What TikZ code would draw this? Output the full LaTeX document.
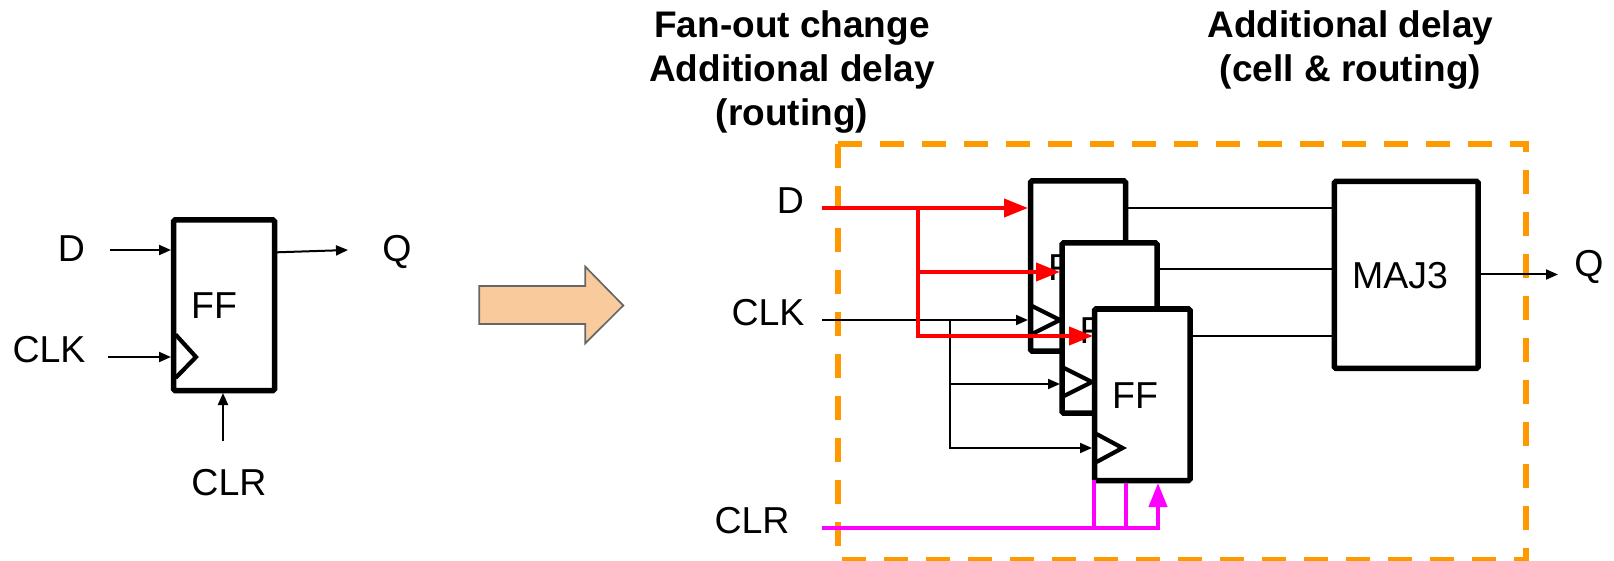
\documentclass[tikz,border=0pt]{standalone}
\usepackage{fontspec}
\setmainfont{Liberation Sans}
\usetikzlibrary{arrows.meta}
\definecolor{dashor}{HTML}{FF9900}
\definecolor{arrowfill}{HTML}{F9CB9C}
\definecolor{arrowline}{HTML}{666666}
\definecolor{mag}{HTML}{FF00FF}
\tikzset{
  lab/.style={font=\fontsize{37.5}{37.5}\selectfont,inner sep=0pt,outer sep=0pt,anchor=base},
  head/.style={font=\fontsize{37}{44}\selectfont\bfseries,inner sep=0pt,anchor=center,align=center},
  cell/.style={draw=black,line width=5.5pt,fill=white,rounded corners=1.5pt,minimum width=95pt,minimum height=170pt,inner sep=0pt,outer sep=0pt,anchor=north west},
  clockmark/.style={draw=black,line width=4.2pt,line join=miter},
  thinarrow/.style={draw=black,line width=2pt,-{Triangle[length=12pt,width=10pt]}},
  plain/.style={draw=black,line width=2pt},
  redw/.style={draw=red,line width=4pt,-{Triangle[length=24pt,width=18pt]}},
  magw/.style={draw=mag,line width=4pt},
}
\begin{document}
\begin{tikzpicture}[x=1pt,y=-1pt]
\useasboundingbox (0,0) rectangle (1614,561);
% left FF
\node[cell,minimum width=101pt,minimum height=170.5pt] (ffa) at (173.5,220) {};
\node[lab] (ffat) at (214,318) {FF};
\draw[clockmark] (175.5,334.5) -- (196,357) -- (175.5,378);
\node[lab] (da) at (71.5,262) {D};
\node[lab] (clka) at (49,362.5) {CLK};
\node[lab] (clra) at (229,495) {CLR};
\node[lab] (qa) at (397,262) {Q};
\coordinate (dai) at (110,250);\coordinate (dae) at (171,250);
\coordinate (cai) at (108,357);\coordinate (cae) at (171,357);
\coordinate (rai) at (223,440.5);\coordinate (rae) at (223,393);
\coordinate (qai) at (277,252.3);\coordinate (qae) at (348,250);
\draw[thinarrow] (dai) -- (dae);
\draw[thinarrow] (cai) -- (cae);
\draw[thinarrow] (rai) -- (rae);
\draw[thinarrow] (qai) -- (qae);
% block arrow
\draw[draw=arrowline,fill=arrowfill,line width=1.7pt] (479.3,286) -- (585.3,286) -- (585.3,266.7) -- (623.3,305.5) -- (585.3,343.3) -- (585.3,324) -- (479.3,324) -- cycle;
% headers
\node[head] (h1) at (792,72) {Fan-out change\\Additional delay\\(routing)};
\node[head] (h2) at (1350.5,50.5) {Additional delay\\(cell \& routing)};
% dashed box
\coordinate (dba) at (838,144);\coordinate (dbb) at (1526,144);\coordinate (dbc) at (1526,560);\coordinate (dbd) at (838,560);
\draw[dashor,line width=6pt,dash pattern=on 24pt off 18pt] (dba) -- (dbb) -- (dbc) -- (dbd) -- cycle;
\coordinate (din) at (822,208);\coordinate (cin) at (822,320);\coordinate (rin) at (822,528);
\coordinate (rj) at (918,208);\coordinate (rj2) at (918,272);\coordinate (rj3) at (918,336);
\coordinate (cj) at (950,320);\coordinate (cj2) at (950,384);\coordinate (cj3) at (950,448);
% FF 1
\node[cell] (ff1) at (1030.5,181) {};
\node[lab] (ff1t) at (1071,281) {FF};
\draw[clockmark] (1032,306) -- (1060,320) -- (1032,334);
% FF 2
\node[cell] (ff2) at (1062,243) {};
\node[lab] (ff2t) at (1102.5,343) {FF};
\draw[clockmark] (1064,368) -- (1092,382) -- (1064,396);
% FF 3
\node[cell,minimum width=95.5pt,minimum height=171.5pt] (ff3) at (1094.5,309) {};
\node[lab] (ff3t) at (1135,408) {FF};
\draw[clockmark] (1096.5,434) -- (1122.5,448) -- (1096.5,462);
% MAJ3
\node[cell,minimum width=143.7pt,minimum height=187pt] (maj) at (1334.3,181.4) {};
\node[lab] (majt) at (1400,289) {MAJ3};
\node[lab] (din2) at (790.3,214) {D};
\node[lab] (clk2) at (768,326) {CLK};
\node[lab] (clr2) at (752,533) {CLR};
\node[lab] (q2) at (1589,277) {Q};
% outputs
\coordinate (o1) at (1128,208);\coordinate (o1m) at (1334,208);
\coordinate (o2) at (1159,269);\coordinate (o2m) at (1334,269);
\coordinate (o3) at (1192,336);\coordinate (o3m) at (1334,336);
\coordinate (oq) at (1481,274.5);\coordinate (oqe) at (1558,274.5);
\draw[plain] (o1) -- (o1m);
\draw[plain] (o2) -- (o2m);
\draw[plain] (o3) -- (o3m);
\draw[thinarrow] (oq) -- (oqe);
% clock
\draw[thinarrow] (cin) -- (1028,320);
\draw[thinarrow] (cj) -- (cj2) -- (1060,384);
\draw[thinarrow] (cj2) -- (cj3) -- (1092,448);
% data
\draw[redw] (din) -- (1028,208);
\draw[redw] (rj) -- (rj2) -- (1060,272);
\draw[redw] (rj2) -- (rj3) -- (1093,336);
% clear
\draw[magw] (rin) -- (1158,528);
\draw[magw,-{Triangle[length=24pt,width=18pt]}] (1158,530) -- (1158,483);
\draw[magw] (1094,528) -- (1094,480);
\draw[magw] (1126,528) -- (1126,483);
\end{tikzpicture}
\end{document}
